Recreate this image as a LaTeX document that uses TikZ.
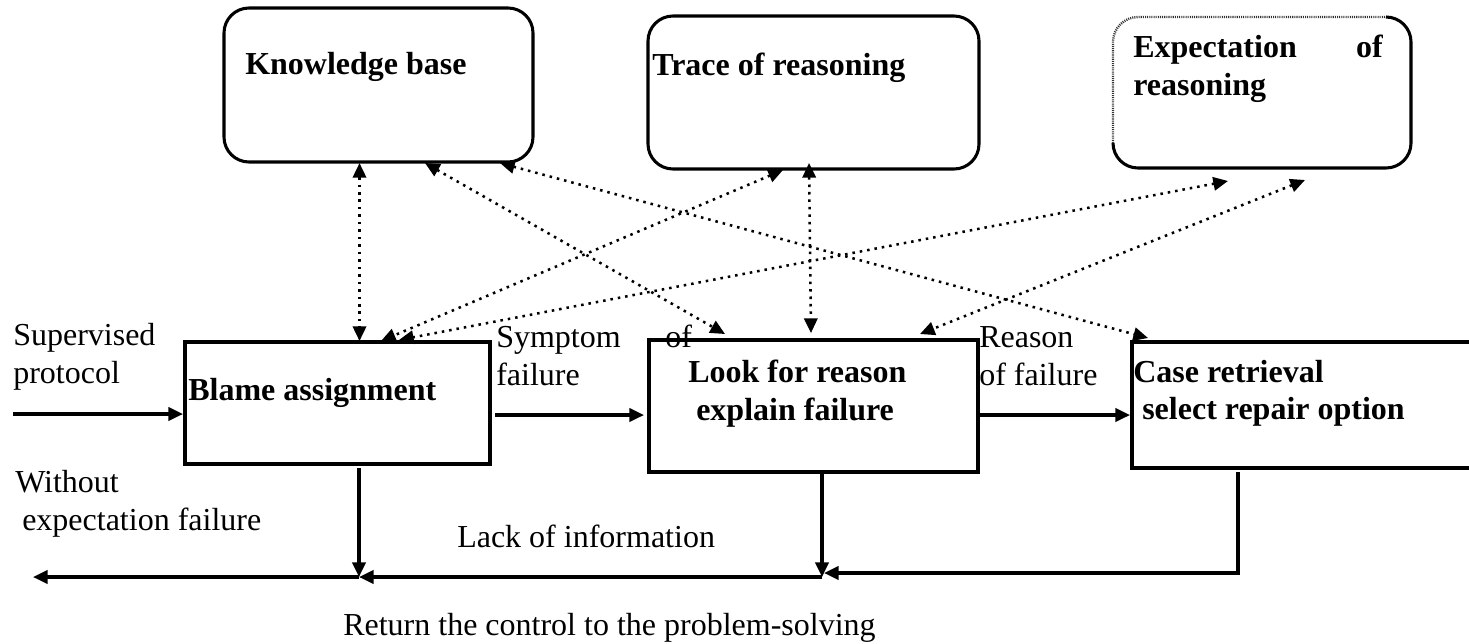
\documentclass[tikz,border=0pt]{standalone}
\usepackage{fontspec}
\setmainfont{Liberation Serif}
\usetikzlibrary{arrows.meta,calc}
\newdimen\pxu \pxu=0.75pt
\begin{document}
\begin{tikzpicture}[x=0.75pt,y=-0.75pt,
  box/.style={draw, line width=2.3pt, inner sep=0pt, outer sep=0pt},
  rbox/.style={box, rounded corners=18.75pt},
  flow/.style={line width=2.3pt, -{Triangle[length=11pt,width=10pt]}},
  dots/.style={line width=1.9pt, dash pattern=on 1.9pt off 3.7pt,
    {Triangle[length=11pt,width=10pt]}-{Triangle[length=11pt,width=10pt]}},
  lbl/.style={anchor=base west, inner sep=0pt, font=\fontsize{24}{28}\selectfont},
  blbl/.style={lbl, font=\fontsize{24}{28}\selectfont\bfseries}]
\useasboundingbox (0,0) rectangle (1469,643);

% resource boxes
\node[rbox, minimum width=309\pxu, minimum height=154\pxu] (KB) at (378.5,85) {};
\node[rbox, minimum width=331\pxu, minimum height=153\pxu] (TR) at (813.5,92.5) {};
\node[inner sep=0pt, outer sep=0pt, minimum width=298\pxu, minimum height=151\pxu] (EX) at (1262,92.5) {};
\draw[line width=2.3pt, rounded corners=18.75pt]
  ($(EX.north east)+(-25,0)$) -- (EX.north east) -- (EX.south east)
  -- (EX.south west) -- ($(EX.south west)+(0,-25)$);
\draw[line width=1.8pt, black!80, dash pattern=on 0.8pt off 0.8pt, rounded corners=18.75pt]
  ($(EX.south west)+(0,-25)$) -- (EX.north west) -- ($(EX.north east)+(-25,0)$);

% process boxes
\node[box, minimum width=305\pxu, minimum height=122\pxu] (BL) at (337.5,403) {};
\node[box, minimum width=329\pxu, minimum height=132\pxu] (LK) at (813.5,406) {};
\node[inner sep=0pt, outer sep=0pt, minimum width=338\pxu, minimum height=126\pxu] (CR) at (1301,405) {};
\draw[line width=2.3pt] (CR.north east) -- (CR.north west) -- (CR.south west) -- (CR.south east);

% box texts
\node[blbl] (tKB) at (245,74) {Knowledge base};
\node[blbl] (tTR) at (652,75) {Trace of reasoning};
\node[blbl] (tEX1) at (1133,57) {Expectation};
\node[blbl, anchor=base east] (tEX2) at (1383,57) {of};
\node[blbl] (tEX3) at (1133,95) {reasoning};
\node[blbl] (tBL) at (188,400) {Blame assignment};
\node[blbl] (tLK1) at (688,382) {Look for reason};
\node[blbl] (tLK2) at (696,420) {explain failure};
\node[blbl] (tCR1) at (1133,382) {Case retrieval};
\node[blbl] (tCR2) at (1142,419) {select repair option};

% edge labels
\node[lbl] (l1) at (13,345) {Supervised};
\node[lbl] (l2) at (13,383) {protocol};
\node[lbl] (l3) at (496,347) {Symptom};
\node[lbl] (l4) at (665,347) {of};
\node[lbl] (l5) at (496,385) {failure};
\node[lbl] (l6) at (979,347) {Reason};
\node[lbl] (l7) at (979,385) {of failure};
\node[lbl] (l8) at (15,492) {Without};
\node[lbl] (l9) at (22,530) {expectation failure};
\node[lbl] (l10) at (457,547) {Lack of information};
\node[lbl] (l11) at (343,635) {Return the control to the problem-solving};

% dotted links between processes and resources
\draw[dots] ($(KB.south west)+(135.5,1)$) -- ($(BL.north west)+(174.5,-1)$);
\draw[dots] ($(KB.south west)+(201,1)$) -- ($(LK.north west)+(76,-6)$);
\draw[dots] ($(KB.south west)+(276,1)$) -- ($(CR.north west)+(16,-4)$);
\draw[dots] ($(TR.south west)+(135,1)$) -- ($(BL.north west)+(196,-1)$);
\draw[dots] ($(TR.south west)+(161,-6)$) -- ($(LK.north west)+(162,-7)$);
\draw[dots] ($(EX.south west)+(115,13)$) -- ($(BL.north west)+(214,-2)$);
\draw[dots] ($(EX.south west)+(192,12)$) -- ($(LK.north west)+(271,-6)$);

% main flow
\coordinate (IN) at (13,414);
\coordinate (J1) at (359,577);
\coordinate (J2) at (822,577);
\coordinate (OUT) at (33,577);
\draw[flow] (IN) -- ($(BL.north west)+(-2,72)$);
\draw[flow] ($(BL.north east)+(5,73)$) -- ($(LK.north west)+(-5,75)$);
\draw[flow] ($(LK.north east)+(1,75)$) -- ($(CR.north west)+(-2,73)$);
\draw[flow] ($(BL.south west)+(174,4)$) -- (J1);
\draw[flow] ($(LK.south west)+(173,0)$) -- (J2);
\draw[flow] (J2) -- (J1);
\draw[flow] ($(CR.south west)+(106,4)$) |- ($(J2)+(2,-4)$);
\draw[flow] (J1) -- (OUT);
\end{tikzpicture}
\end{document}
